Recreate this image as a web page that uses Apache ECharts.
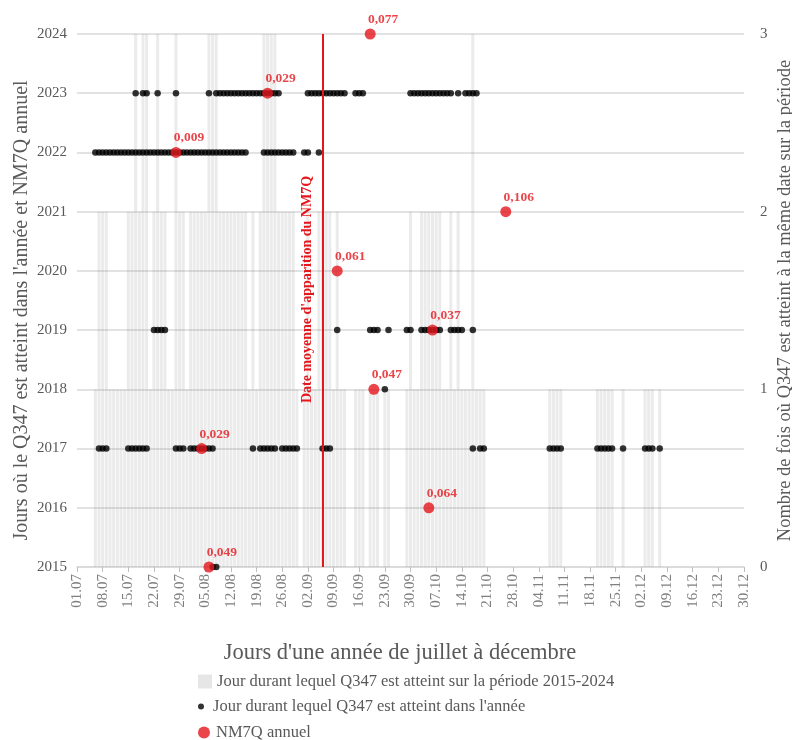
<!DOCTYPE html>
<html><head><meta charset="utf-8">
<script src="https://cdn.jsdelivr.net/npm/echarts@6/dist/echarts.min.js"></script>
<style>html,body{margin:0;padding:0;background:#fff}#c{width:792px;height:740px}</style>
</head><body><div id="c"></div>
<script>
// ---- data ----
const tickLabels = ['01.07','08.07','15.07','22.07','29.07','05.08','12.08','19.08','26.08','02.09','09.09','16.09','23.09','30.09','07.10','14.10','21.10','28.10','04.11','11.11','18.11','25.11','02.12','09.12','16.12','23.12','30.12'];
// day index 0 = 01.07 ; number of years (2015-2024) in which Q347 is reached that day
const dailyCount = [
 0,0,0,0,0,1,2,2,2,1,
 1,1,1,1,2,2,3,2,3,3,
 1,2,3,2,2,1,1,3,2,2,
 1,2,2,2,2,2,3,3,3,2,
 2,2,2,2,2,2,2,1,2,1,
 2,3,3,3,3,2,2,2,2,2,
 1,0,1,2,1,1,2,2,2,2,
 1,2,1,1,0,0,1,1,1,0,
 1,1,1,0,1,1,0,0,0,0,
 1,2,1,1,2,2,2,2,2,2,
 1,1,2,1,2,1,1,1,3,1,
 1,1,0,0,0,0,0,0,0,0,
 0,0,0,0,0,0,0,0,0,1,
 1,1,1,0,0,0,0,0,0,0,
 0,0,1,1,1,1,1,0,0,1,
 0,0,0,0,0,1,1,1,0,1,
 0,0,0,0,0,0,0,0,0,0,
 0,0,0,0,0,0,0,0,0,0,
 0,0,0
];
const days2015 = [37,38];
const days2017 = [6,7,8,14,15,16,17,18,19,27,28,29,31,32,33,34,35,36,37,48,50,51,52,53,54,56,57,58,59,60,67,68,69,108,110,111,129,130,131,132,142,143,144,145,146,149,155,156,157,159];
const days2018 = [84];
const days2019 = [21,22,23,24,71,80,81,82,85,90,91,94,95,96,97,98,99,102,103,104,105,108];
const days2022 = [5,6,7,8,9,10,11,12,13,14,15,16,17,18,19,20,21,22,23,24,25,26,27,28,29,30,31,32,33,34,35,36,37,38,39,40,41,42,43,44,45,46,51,52,53,54,55,56,57,58,59,62,63,66];
const days2023 = [16,18,19,22,27,36,38,39,40,41,42,43,44,45,46,47,48,49,50,51,52,53,54,55,63,64,65,66,67,68,69,70,71,72,73,76,77,78,91,92,93,94,95,96,97,98,99,100,101,102,104,106,107,108,109];
const nm7qYears = [2015,2016,2017,2018,2019,2020,2021,2022,2023,2024];
const nm7qDays  = [36,96,34,81,97,71,117,27,52,80];
const nm7qValues = ['0,049','0,064','0,029','0,047','0,037','0,061','0,106','0,009','0,029','0,077'];
const meanNm7qDay = 67;

const nameBars = 'Jour durant lequel Q347 est atteint sur la période 2015-2024';
const nameDots = "Jour durant lequel Q347 est atteint dans l'année";
const nameRed = 'NM7Q annuel';

// ---- build ----
const barData = dailyCount.map((c, i) => [i, c]);
const dotData = [];
[[2015, days2015],[2017, days2017],[2018, days2018],[2019, days2019],[2022, days2022],[2023, days2023]]
  .forEach(([y, arr]) => arr.forEach(d => dotData.push([d, y])));
const redData = nm7qYears.map((y, i) => ({value: [nm7qDays[i], y], label: {formatter: nm7qValues[i]}}));

const FONT = 'Liberation Serif';
const RED = '#e4171d';
const legendText = {fontFamily: FONT, fontSize: 16.5, color: '#595959'};
const chart = echarts.init(document.getElementById('c'), null, {renderer: 'canvas'});
chart.setOption({
  animation: false,
  textStyle: {fontFamily: FONT},
  grid: {left: 77, right: 48, top: 34, bottom: 173, outerBoundsMode: 'none', containLabel: false},
  title: {text: "Jours d'une année de juillet à décembre", left: 400, top: 642, textAlign: 'center', padding: 0,
    textStyle: {fontFamily: FONT, fontSize: 22.5, fontWeight: 'normal', color: '#595959'}},
  legend: [
    {left: 193, top: 668, itemWidth: 14, itemHeight: 14, data: [{name: nameBars, icon: 'rect', itemStyle: {color: '#e6e6e6'}}],
      textStyle: legendText, selectedMode: false},
    {left: 193, top: 693, itemWidth: 14, itemHeight: 6, data: [{name: nameDots, icon: 'circle'}],
      textStyle: legendText, selectedMode: false},
    {left: 193, top: 719, itemWidth: 14, itemHeight: 12, data: [{name: nameRed, icon: 'circle'}],
      textStyle: legendText, selectedMode: false}
  ],
  xAxis: {
    type: 'value', min: 0, max: 182, interval: 7,
    axisLine: {show: true, lineStyle: {color: '#d9d9d9', width: 1.5}},
    axisTick: {show: true, length: 5, lineStyle: {color: '#bfbfbf'}},
    splitLine: {show: false},
    axisLabel: {rotate: 90, margin: 7, color: '#808080', fontSize: 15, fontFamily: FONT,
      formatter: v => tickLabels[Math.round(v / 7)] || ''}
  },
  yAxis: [
    {type: 'value', min: 2015, max: 2024, interval: 1,
      name: "Jours où le Q347 est atteint dans l'année et NM7Q annuel", nameLocation: 'middle', nameRotate: 90, nameGap: 45,
      nameMoveOverlap: false,
      nameTextStyle: {fontFamily: FONT, fontSize: 20, color: '#595959', padding: [0, 20, 0, 0]},
      axisLine: {show: false}, axisTick: {show: false},
      axisLabel: {color: '#595959', fontSize: 15, fontFamily: FONT, margin: 10, formatter: v => String(v)},
      splitLine: {show: true, lineStyle: {color: '#d9d9d9', width: 1.5}}},
    {type: 'value', min: 0, max: 3, interval: 1, position: 'right',
      name: 'Nombre de fois où Q347 est atteint à la même date sur la période', nameLocation: 'middle', nameRotate: 90, nameGap: 32,
      nameMoveOverlap: false,
      nameTextStyle: {fontFamily: FONT, fontSize: 18.5, color: '#595959'},
      axisLine: {show: false}, axisTick: {show: false},
      axisLabel: {color: '#595959', fontSize: 15, fontFamily: FONT, margin: 16, formatter: v => String(v)},
      splitLine: {show: false}}
  ],
  series: [
    {name: nameBars, type: 'bar', xAxisIndex: 0, yAxisIndex: 1, data: barData, barWidth: 3,
      itemStyle: {color: 'rgba(110,110,110,0.14)'}, z: 1, silent: true},
    {name: nameDots, type: 'scatter', yAxisIndex: 0, data: dotData, symbolSize: 6.5,
      itemStyle: {color: '#000'}, z: 3,
      markLine: {silent: true, symbol: 'none', animation: false,
        lineStyle: {color: RED, width: 2, type: 'solid'},
        label: {show: true, position: 'insideMiddleTop', formatter: "Date moyenne d'apparition du NM7Q",
          color: RED, fontFamily: FONT, fontWeight: 'bold', fontSize: 14, distance: 8, padding: [0, 0, 0, 22]},
        data: [[{coord: [meanNm7qDay, 2015]}, {coord: [meanNm7qDay, 2024]}]]}},
    {name: nameRed, type: 'scatter', yAxisIndex: 0, data: redData, symbolSize: 11,
      itemStyle: {color: RED}, z: 4,
      label: {show: true, position: 'top', distance: 4, offset: [13, 2], color: RED,
        fontFamily: FONT, fontWeight: 'bold', fontSize: 13.5}}
  ]
});
</script></body></html>
